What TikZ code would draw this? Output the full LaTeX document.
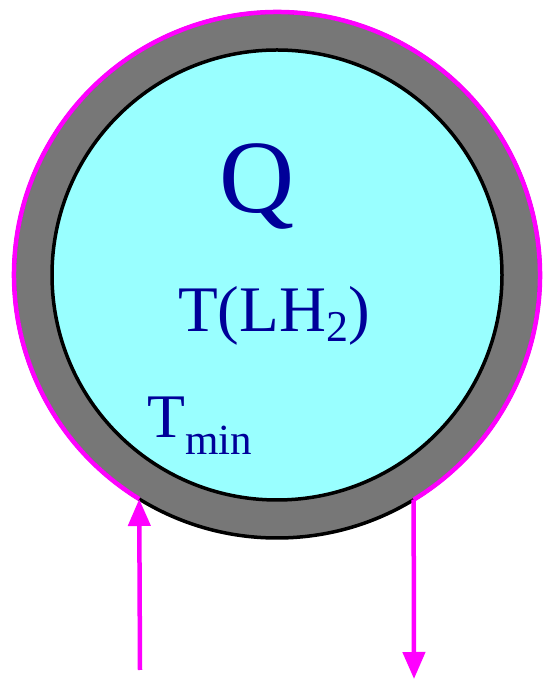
\documentclass[tikz,border=0pt]{standalone}
\usepackage{fontspec}
\setmainfont{Liberation Serif}
\usetikzlibrary{arrows.meta,calc}
\definecolor{liquid}{HTML}{99FFFF}
\definecolor{wall}{HTML}{777777}
\definecolor{navy}{HTML}{000099}
\definecolor{mag}{HTML}{FF00FF}
\tikzset{
  lbl/.style={inner sep=0pt, text=navy},
  flow/.style={draw=mag, line width=4.5pt, -{Triangle[width=22pt,length=27pt]}},
}
\begin{document}
\begin{tikzpicture}[x=1pt,y=1pt]
\useasboundingbox (0,0) rectangle (544,679);
\coordinate (C) at (277,404);
\fill[wall] (C) circle[radius=263];
\draw[black, line width=3.5pt] (C) circle[radius=263];
\fill[liquid] (C) circle[radius=225];
\draw[black, line width=3.5pt] (C) circle[radius=225];
\coordinate (L) at ($(C)+(238.4:263pt)$);
\coordinate (R) at ($(C)+(-58.7:263pt)$);
\draw[mag, line width=4.5pt] (L) arc[start angle=238.4, end angle=-58.7, radius=263];
\coordinate (Lin) at (140,9);
\coordinate (Rout) at (414,0);
\draw[flow] (Lin) -- (L);
\draw[flow] (R) -- (Rout);
\node[lbl, anchor=base] (q) at (257,466) {\fontsize{104}{104}\selectfont Q};
\node[lbl, anchor=base west] (tl) at (178,347) {\fontsize{65}{65}\selectfont T(LH\raisebox{-10pt}{\fontsize{44}{44}\selectfont 2})};
\node[lbl, anchor=base west] (tm) at (147,241) {\fontsize{62}{62}\selectfont T\raisebox{-17pt}{\fontsize{43}{43}\selectfont min}};
\end{tikzpicture}
\end{document}
